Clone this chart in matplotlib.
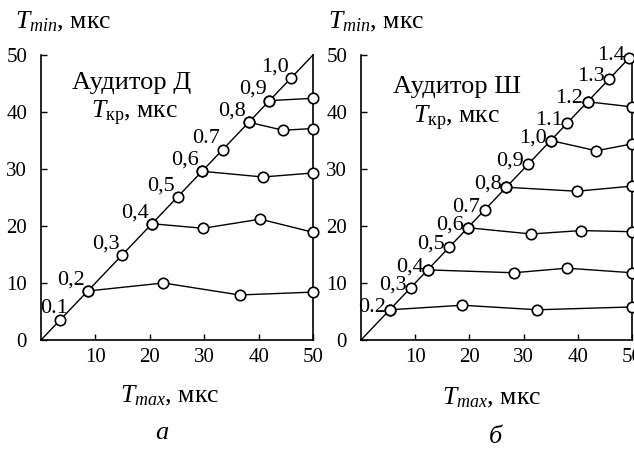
import matplotlib.pyplot as plt

plt.rcParams['font.family'] = 'Liberation Serif'
plt.rcParams['mathtext.fontset'] = 'custom'
plt.rcParams['mathtext.rm'] = 'Liberation Serif'
plt.rcParams['mathtext.it'] = 'Liberation Serif:italic'

# Аудитор Д: точки на диагонали (T_kr)
d_diag = [3.5, 8.6, 14.9, 20.4, 25.1, 29.6, 33.4, 38.2, 42.0, 46.0]
d_labels = ['0.1', '0,2', '0,3', '0,4', '0,5', '0,6', '0.7', '0,8', '0,9', '1,0']
# горизонтальные кривые
d_x02 = [8.6, 22.5, 36.5, 50]
d_y02 = [8.6, 10.0, 7.9, 8.4]
d_x04 = [20.4, 29.8, 40.3, 50]
d_y04 = [20.4, 19.6, 21.2, 18.9]
d_x06 = [29.6, 40.8, 50]
d_y06 = [29.6, 28.6, 29.3]
d_x08 = [38.2, 44.5, 50]
d_y08 = [38.2, 36.8, 37.1]
d_x09 = [42.0, 50]
d_y09 = [42.0, 42.4]

# Аудитор Ш
s_diag = [5.3, 9.2, 12.3, 16.3, 19.7, 22.8, 26.8, 30.9, 35.0, 38.0, 41.8, 45.8, 49.4]
s_labels = ['0.2', '0,3', '0,4', '0,5', '0,6', '0.7', '0,8', '0,9', '1,0',
            '1.1', '1.2', '1.3', '1.4']
s_x02 = [5.3, 18.7, 32.5, 50]
s_y02 = [5.3, 6.1, 5.3, 5.8]
s_x04 = [12.3, 28.2, 38.0, 50]
s_y04 = [12.3, 11.8, 12.6, 11.8]
s_x06 = [19.7, 31.4, 40.6, 50]
s_y06 = [19.7, 18.6, 19.2, 19.0]
s_x08 = [26.8, 39.8, 50]
s_y08 = [26.8, 26.1, 27.0]
s_x10 = [35.0, 43.4, 50]
s_y10 = [35.0, 33.2, 34.4]
s_x12 = [41.8, 50]
s_y12 = [41.8, 40.9]

fig = plt.figure(figsize=(6.34, 4.54), dpi=100)
W, H = 634, 454
ax1 = fig.add_axes([41 / W, 1 - 340 / H, 272 / W, 285 / H])
ax2 = fig.add_axes([361 / W, 1 - 340 / H, 271 / W, 285 / H])

mk = dict(marker='o', markersize=7.5, markerfacecolor='white',
          markeredgecolor='black', markeredgewidth=1.2, color='black',
          clip_on=False, zorder=3)


def setup(ax):
    ax.set_xlim(0, 50)
    ax.set_ylim(0, 50)
    ax.spines['top'].set_visible(False)
    ax.spines['right'].set_visible(False)
    for s in ['left', 'bottom']:
        ax.spines[s].set_linewidth(1.2)
    ax.set_xticks([10, 20, 30, 40, 50])
    ax.set_yticks([0, 10, 20, 30, 40, 50])
    ax.tick_params(axis='both', direction='in', length=4, width=1, labelsize=15)
    ax.tick_params(axis='y', pad=10)
    ax.tick_params(axis='x', pad=6)
    # диагональ и правая граница
    ax.plot([0, 50], [0, 50], color='black', lw=1.0, clip_on=False, zorder=2)
    ax.plot([50, 50], [0, 50], color='black', lw=1.2, clip_on=False, zorder=2)


setup(ax1)
setup(ax2)

# панель а
for xs, ys in [(d_x02, d_y02), (d_x04, d_y04), (d_x06, d_y06),
               (d_x08, d_y08), (d_x09, d_y09)]:
    ax1.plot(xs, ys, linewidth=1.0, **mk)
ax1.plot(d_diag, d_diag, linestyle='none', **mk)
for v, t in zip(d_diag, d_labels):
    dx = 6 if t == '0.1' else -2   # подпись 0.1 стоит правее
    ax1.annotate(t, (v, v), xytext=(dx, 8), textcoords='offset points',
                 ha='right', va='center', fontsize=16)

# панель б
for xs, ys in [(s_x02, s_y02), (s_x04, s_y04), (s_x06, s_y06),
               (s_x08, s_y08), (s_x10, s_y10), (s_x12, s_y12)]:
    ax2.plot(xs, ys, linewidth=1.0, **mk)
ax2.plot(s_diag, s_diag, linestyle='none', **mk)
for v, t in zip(s_diag, s_labels):
    ax2.annotate(t, (v, v), xytext=(-3, 2), textcoords='offset points',
                 ha='right', va='center', fontsize=16)

# подписи
fig.text(15 / W, 1 - 22 / H, r'$T_{min}$, мкс', fontsize=18.5, va='center', ha='left')
fig.text(328 / W, 1 - 22 / H, r'$T_{min}$, мкс', fontsize=18.5, va='center', ha='left')
fig.text(132 / W, 1 - 83 / H, 'Аудитор Д', fontsize=19, va='center', ha='center')
fig.text(135 / W, 1 - 113 / H, r'$T_{\mathrm{кр}}$, мкс', fontsize=18.5, va='center', ha='center')
fig.text(457 / W, 1 - 87 / H, 'Аудитор Ш', fontsize=19, va='center', ha='center')
fig.text(457 / W, 1 - 118 / H, r'$T_{\mathrm{кр}}$, мкс', fontsize=18.5, va='center', ha='center')
fig.text(170 / W, 1 - 396 / H, r'$T_{max}$, мкс', fontsize=18.5, va='center', ha='center')
fig.text(492 / W, 1 - 398 / H, r'$T_{max}$, мкс', fontsize=18.5, va='center', ha='center')
fig.text(162 / W, 1 - 433 / H, 'а', fontsize=19, style='italic', va='center', ha='center')
fig.text(495 / W, 1 - 437 / H, 'б', fontsize=19, style='italic', va='center', ha='center')

fig.savefig('out.png', dpi=100)
